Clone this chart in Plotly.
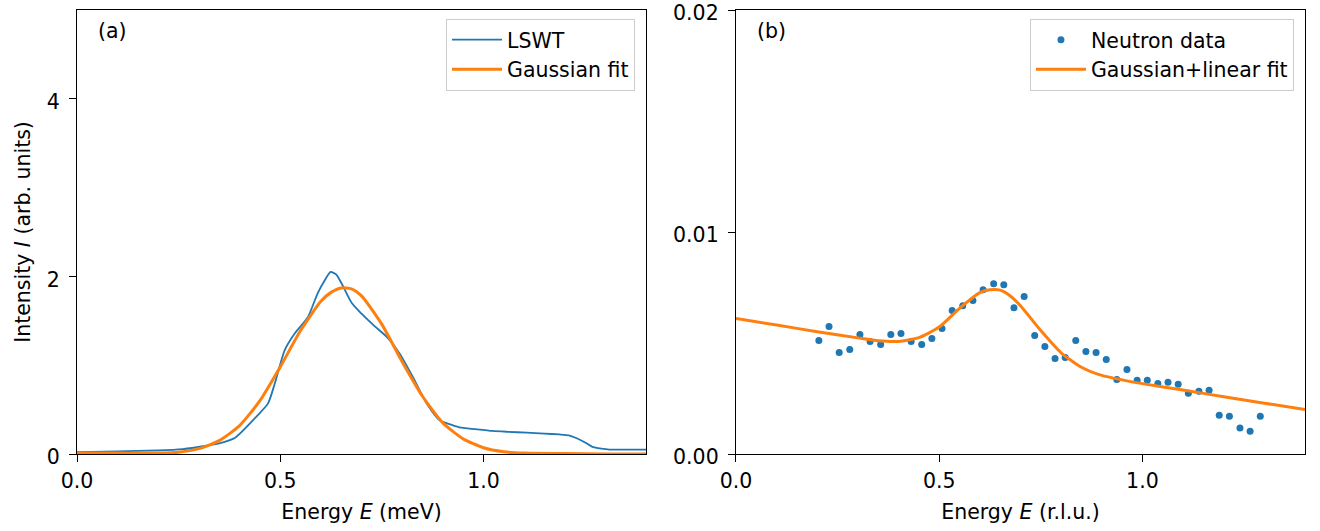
import plotly.graph_objects as go
from plotly.subplots import make_subplots

# ---------------- Panel (a) data ----------------
lswt_E = [0.0, 0.10, 0.20, 0.26, 0.315, 0.35, 0.388, 0.437, 0.47, 0.487, 0.511, 0.536, 0.568,
          0.592, 0.610, 0.624, 0.638, 0.651, 0.676, 0.70, 0.732, 0.762, 0.794, 0.826, 0.86,
          0.892, 0.92, 0.941, 0.98, 1.022, 1.06, 1.106, 1.15, 1.187, 1.21, 1.228, 1.25, 1.268,
          1.29, 1.31, 1.35, 1.40]
lswt_I = [0.02, 0.03, 0.04, 0.055, 0.09, 0.12, 0.18, 0.40, 0.57, 0.80, 1.17, 1.36, 1.54,
          1.81, 1.96, 2.05, 2.02, 1.92, 1.70, 1.58, 1.44, 1.32, 1.13, 0.87, 0.57,
          0.38, 0.33, 0.30, 0.28, 0.26, 0.25, 0.24, 0.23, 0.22, 0.21, 0.18, 0.13, 0.08,
          0.06, 0.05, 0.05, 0.05]

gfit_E = [0.0, 0.10, 0.20, 0.25, 0.30, 0.35, 0.40, 0.45, 0.50, 0.55, 0.60, 0.625, 0.65, 0.675,
          0.70, 0.75, 0.80, 0.85, 0.90, 0.95, 1.00, 1.05, 1.10, 1.20, 1.30, 1.40]
gfit_I = [0.01, 0.01, 0.01, 0.02, 0.06, 0.15, 0.32, 0.60, 0.98, 1.39, 1.72, 1.82, 1.87, 1.86,
          1.78, 1.46, 1.04, 0.65, 0.35, 0.17, 0.07, 0.025, 0.01, 0.005, 0.0, 0.0]

# ---------------- Panel (b) data ----------------
neutron_E = [0.204, 0.229, 0.254, 0.280, 0.305, 0.330, 0.356, 0.381, 0.406, 0.431, 0.457,
             0.482, 0.507, 0.532, 0.558, 0.583, 0.608, 0.634, 0.659, 0.684, 0.709, 0.735,
             0.760, 0.785, 0.810, 0.836, 0.861, 0.886, 0.911, 0.937, 0.962, 0.987, 1.012,
             1.038, 1.063, 1.088, 1.113, 1.139, 1.164, 1.189, 1.214, 1.240, 1.265, 1.290]
neutron_I = [0.00511, 0.00574, 0.00457, 0.00471, 0.00538, 0.00507, 0.00493, 0.00538, 0.00543, 0.00507, 0.00493,
             0.00520, 0.00565, 0.00646, 0.00668, 0.00691, 0.00740, 0.00767, 0.00762, 0.00659, 0.00709, 0.00534,
             0.00484, 0.00430, 0.00435, 0.00511, 0.00462, 0.00457, 0.00426, 0.00336, 0.00381, 0.00332, 0.00332,
             0.00318, 0.00323, 0.00314, 0.00274, 0.00283, 0.00287, 0.00175, 0.00170, 0.00117, 0.00103, 0.00170]

glfit_E = [0.0, 0.10, 0.20, 0.30, 0.35, 0.40, 0.45, 0.50, 0.55, 0.60, 0.625, 0.65, 0.675, 0.70,
           0.75, 0.80, 0.85, 0.90, 0.95, 1.00, 1.10, 1.20, 1.30, 1.40]
glfit_I = [0.00610, 0.00581, 0.00551, 0.00523, 0.00510, 0.00507, 0.00524, 0.00572, 0.00656, 0.00727,
           0.00740, 0.00738, 0.00712, 0.00668, 0.00556, 0.00456, 0.00391, 0.00354, 0.00334, 0.00317,
           0.00288, 0.00258, 0.00229, 0.00200]

BLUE = "#1f77b4"
ORANGE = "#ff7f0e"
FONT = "DejaVu Sans"
FS = 20.5

fig = make_subplots(rows=1, cols=2, horizontal_spacing=0.0732)

fig.add_trace(go.Scatter(x=lswt_E, y=lswt_I, mode="lines", name="LSWT",
                         line=dict(color=BLUE, width=1.8, shape="spline", smoothing=0.6),
                         legend="legend"), row=1, col=1)
fig.add_trace(go.Scatter(x=gfit_E, y=gfit_I, mode="lines", name="Gaussian fit",
                         line=dict(color=ORANGE, width=3, shape="spline", smoothing=0.6),
                         legend="legend"), row=1, col=1)
fig.add_trace(go.Scatter(x=neutron_E, y=neutron_I, mode="markers", name="Neutron data",
                         marker=dict(color=BLUE, size=7),
                         legend="legend2"), row=1, col=2)
fig.add_trace(go.Scatter(x=glfit_E, y=glfit_I, mode="lines", name="Gaussian+linear fit",
                         line=dict(color=ORANGE, width=3, shape="spline", smoothing=0.6),
                         legend="legend2"), row=1, col=2)

ax_common = dict(showline=True, linecolor="black", linewidth=1.3, mirror=True,
                 ticks="outside", ticklen=7, tickwidth=1.2, tickcolor="black",
                 showgrid=False, zeroline=False, ticklabeloverflow="allow",
                 automargin=False,
                 tickfont=dict(family=FONT, size=FS, color="black"))

fig.update_xaxes(**ax_common, range=[0, 1.4], tickvals=[0.0, 0.5, 1.0],
                 ticktext=["0.0", "0.5", "1.0"], ticklabelstandoff=1)
fig.update_xaxes(title=dict(text="Energy <i>E</i> (meV)", font=dict(family=FONT, size=FS, color="black"),
                            standoff=12), row=1, col=1)
fig.update_xaxes(title=dict(text="Energy <i>E</i> (r.l.u.)", font=dict(family=FONT, size=FS, color="black"),
                            standoff=12), row=1, col=2)
fig.update_yaxes(**ax_common, ticklabelstandoff=5, ticklabelshift=3)
fig.update_yaxes(range=[0, 5], tickvals=[0, 2, 4], ticktext=["0", "2", "4"],
                 title=dict(text="Intensity <i>I</i> (arb. units)", font=dict(family=FONT, size=FS, color="black"),
                            standoff=10), row=1, col=1)
fig.update_yaxes(range=[0, 0.02], tickvals=[0.0, 0.01, 0.02], ticktext=["0.00", "0.01", "0.02"],
                 row=1, col=2)

fig.add_annotation(text="(a)", xref="x domain", yref="y domain", x=0.033, y=0.953,
                   xanchor="left", yanchor="middle", showarrow=False,
                   font=dict(family=FONT, size=FS, color="black"))
fig.add_annotation(text="(b)", xref="x2 domain", yref="y2 domain", x=0.033, y=0.953,
                   xanchor="left", yanchor="middle", showarrow=False,
                   font=dict(family=FONT, size=FS, color="black"))

legend_style = dict(bgcolor="rgba(255,255,255,0.8)", bordercolor="#cccccc", borderwidth=1,
                    font=dict(family=FONT, size=FS, color="black"),
                    xanchor="right", yanchor="top", tracegroupgap=0, itemwidth=50)
fig.update_layout(
    legend=dict(**legend_style, x=0.4634 - 0.009, y=0.98),
    legend2=dict(**legend_style, x=0.991, y=0.98),
    width=1320, height=531,
    margin=dict(l=77, r=15, t=10, b=77),
    plot_bgcolor="white", paper_bgcolor="white",
    font=dict(family=FONT, size=FS, color="black"),
)

fig.write_html("out.html")
